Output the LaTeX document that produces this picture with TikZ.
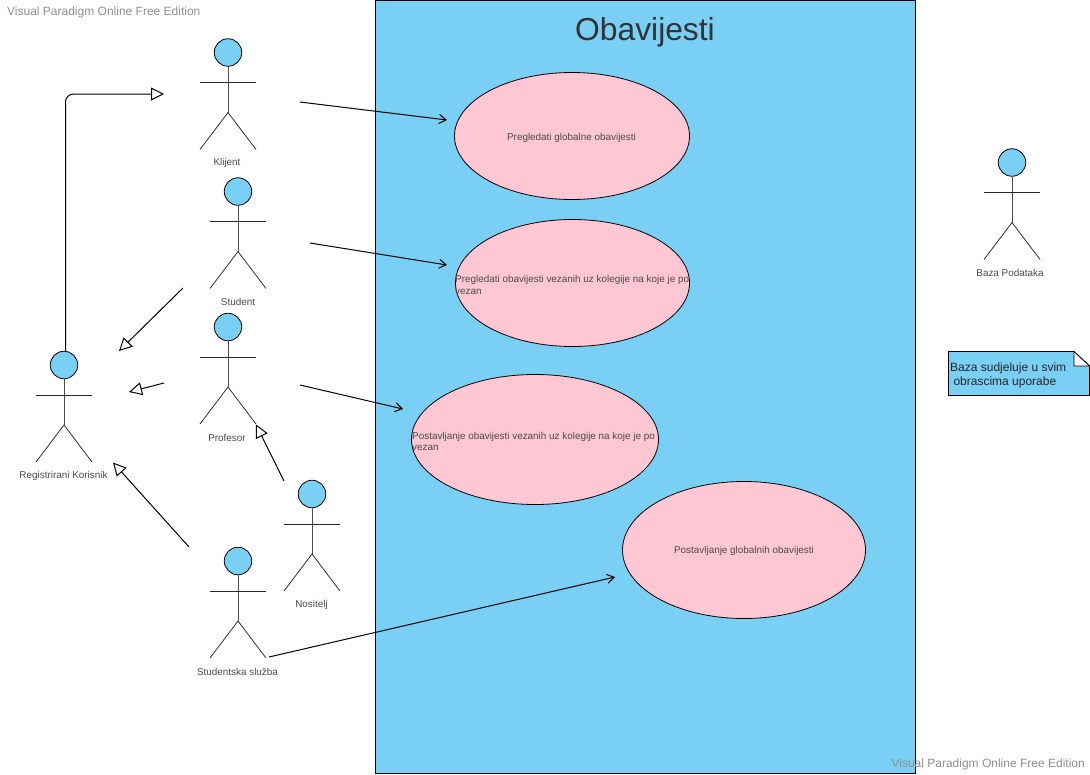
\documentclass[tikz,border=0pt]{standalone}
\usepackage{fontspec}
\setmainfont{Liberation Sans}
\usetikzlibrary{arrows.meta,shapes.geometric}
\definecolor{vpblue}{HTML}{7ACFF5}
\definecolor{vppink}{HTML}{FFC7D4}
\definecolor{vptext}{HTML}{4A4A4A}
\definecolor{vpwm}{HTML}{8F8F8F}
\tikzset{
  x=1pt,y=-1pt,
  every node/.style={font=\fontsize{9.9}{11.5}\selectfont,text=vptext,inner sep=0pt},
  head/.style={circle,draw=black,fill=vpblue,line width=0.8pt,minimum size=27.5pt},
  limb/.style={draw=black!85,line width=0.75pt},
  spine/.style={draw=black!70,line width=1pt},
  usecase/.style={ellipse,draw=black,fill=vppink,line width=0.8pt,outer sep=0pt},
  gen/.style={draw=black,line width=1pt,-{Triangle[open,fill=white,length=13pt,width=13pt]}},
  assoc/.style={draw=black,line width=1pt,-{Straight Barb[length=7pt,width=9pt]}},
  wm/.style={font=\fontsize{12}{14}\selectfont,text=vpwm},
}
% #1 name, #2 head x, #3 head y, #4 label x, #5 label y, #6 label
\newcommand{\stickman}[6]{
  \node[head] (#1) at (#2,#3) {};
  \coordinate (#1h) at (#2,#3+60);
  \coordinate (#1al) at (#2-28,#3+30);
  \coordinate (#1ar) at (#2+28,#3+30);
  \coordinate (#1fl) at (#2-28,#3+97);
  \coordinate (#1fr) at (#2+28,#3+97);
  \draw[spine] (#1) -- (#1h);
  \draw[limb] (#1al) -- (#1ar);
  \draw[limb] (#1fl) -- (#1h) -- (#1fr);
  \node (#1lab) at (#4,#5) {#6};
}
\begin{document}
\begin{tikzpicture}
\useasboundingbox (0,0) rectangle (1090,774);
\node[wm,anchor=west] (wm1) at (7,12) {Visual Paradigm Online Free Edition};

\node[draw=black,fill=vpblue,line width=0.9pt,outer sep=0pt,minimum width=540pt,minimum height=773pt,anchor=north west] (sys) at (375.5,0.3) {};
\node[font=\fontsize{31.8}{36}\selectfont,text=black!80] (title) at (645,32.5) {Obavijesti};

\node[usecase,minimum width=235pt,minimum height=127pt] (e1) at (572,136) {};
\node[usecase,minimum width=234pt,minimum height=127pt] (e2) at (572.5,283) {};
\node[usecase,minimum width=247pt,minimum height=130pt] (e3) at (535,439.5) {};
\node[usecase,minimum width=243pt,minimum height=137pt] (e4) at (744,550) {};
\node (t1) at (571.5,138) {Pregledati globalne obavijesti};
\node[anchor=west,align=left] (t2) at (455,285) {Pregledati obavijesti vezanih uz kolegije na koje je po\\vezan};
\node[anchor=west,align=left] (t3) at (412,441.5) {Postavljanje obavijesti vezanih uz kolegije na koje je po\\vezan};
\node (t4) at (744,551) {Postavljanje globalnih obavijesti};

\stickman{kl}{228}{52.5}{227}{163}{Klijent}
\stickman{st}{238}{191.5}{238}{302}{Student}
\stickman{pr}{228}{327}{227}{438}{Profesor}
\stickman{rk}{64}{365}{63.5}{476}{Registrirani Korisnik}
\stickman{no}{312}{494}{311.5}{605}{Nositelj}
\stickman{ss}{238}{561}{237.5}{672}{Studentska služba}
\stickman{bz}{1012}{162.5}{1010}{273}{Baza Podataka}

% note
\coordinate (n1) at (948.5,351.5);
\coordinate (n2) at (1074,351.5);
\coordinate (n3) at (1089.5,366);
\coordinate (n4) at (1089.5,395.5);
\coordinate (n5) at (948.5,395.5);
\coordinate (n6) at (1074,366);
\draw[fill=vpblue,draw=black,line width=0.8pt] (n1) -- (n2) -- (n3) -- (n4) -- (n5) -- cycle;
\draw[fill=white,draw=black,line width=0.8pt] (n2) -- (n6) -- (n3) -- cycle;
\node[anchor=west,align=left,font=\fontsize{12}{14}\selectfont,text=black!85] (notetext) at (950,375) {Baza sudjeluje u svim\\\ obrascima uporabe};

% generalizations
\coordinate (a1s) at (65.5,352);
\coordinate (a1m) at (65.5,94);
\coordinate (a1e) at (164,94);
\draw[gen,rounded corners=8pt] (a1s) -- (a1m) -- (a1e);
\coordinate (a2s) at (183,288);
\coordinate (a2e) at (119,351);
\draw[gen] (a2s) -- (a2e);
\coordinate (a3s) at (164,383);
\coordinate (a3e) at (129,392);
\draw[gen] (a3s) -- (a3e);
\coordinate (a4s) at (284,481);
\coordinate (a4e) at (256,424.5);
\draw[gen] (a4s) -- (a4e);
\coordinate (a5s) at (189,547);
\coordinate (a5e) at (113,462.5);
\draw[gen] (a5s) -- (a5e);

% associations
\coordinate (b1s) at (300,102);
\coordinate (b1e) at (447,120);
\draw[assoc] (b1s) -- (b1e);
\coordinate (b2s) at (310,243);
\coordinate (b2e) at (447,265);
\draw[assoc] (b2s) -- (b2e);
\coordinate (b3s) at (300,385);
\coordinate (b3e) at (403,409);
\draw[assoc] (b3s) -- (b3e);
\coordinate (b4s) at (269,657);
\coordinate (b4e) at (615,577);
\draw[assoc] (b4s) -- (b4e);

\node[wm,anchor=east] (wm2) at (1085,764.5) {Visual Paradigm Online Free Edition};
\end{tikzpicture}
\end{document}
